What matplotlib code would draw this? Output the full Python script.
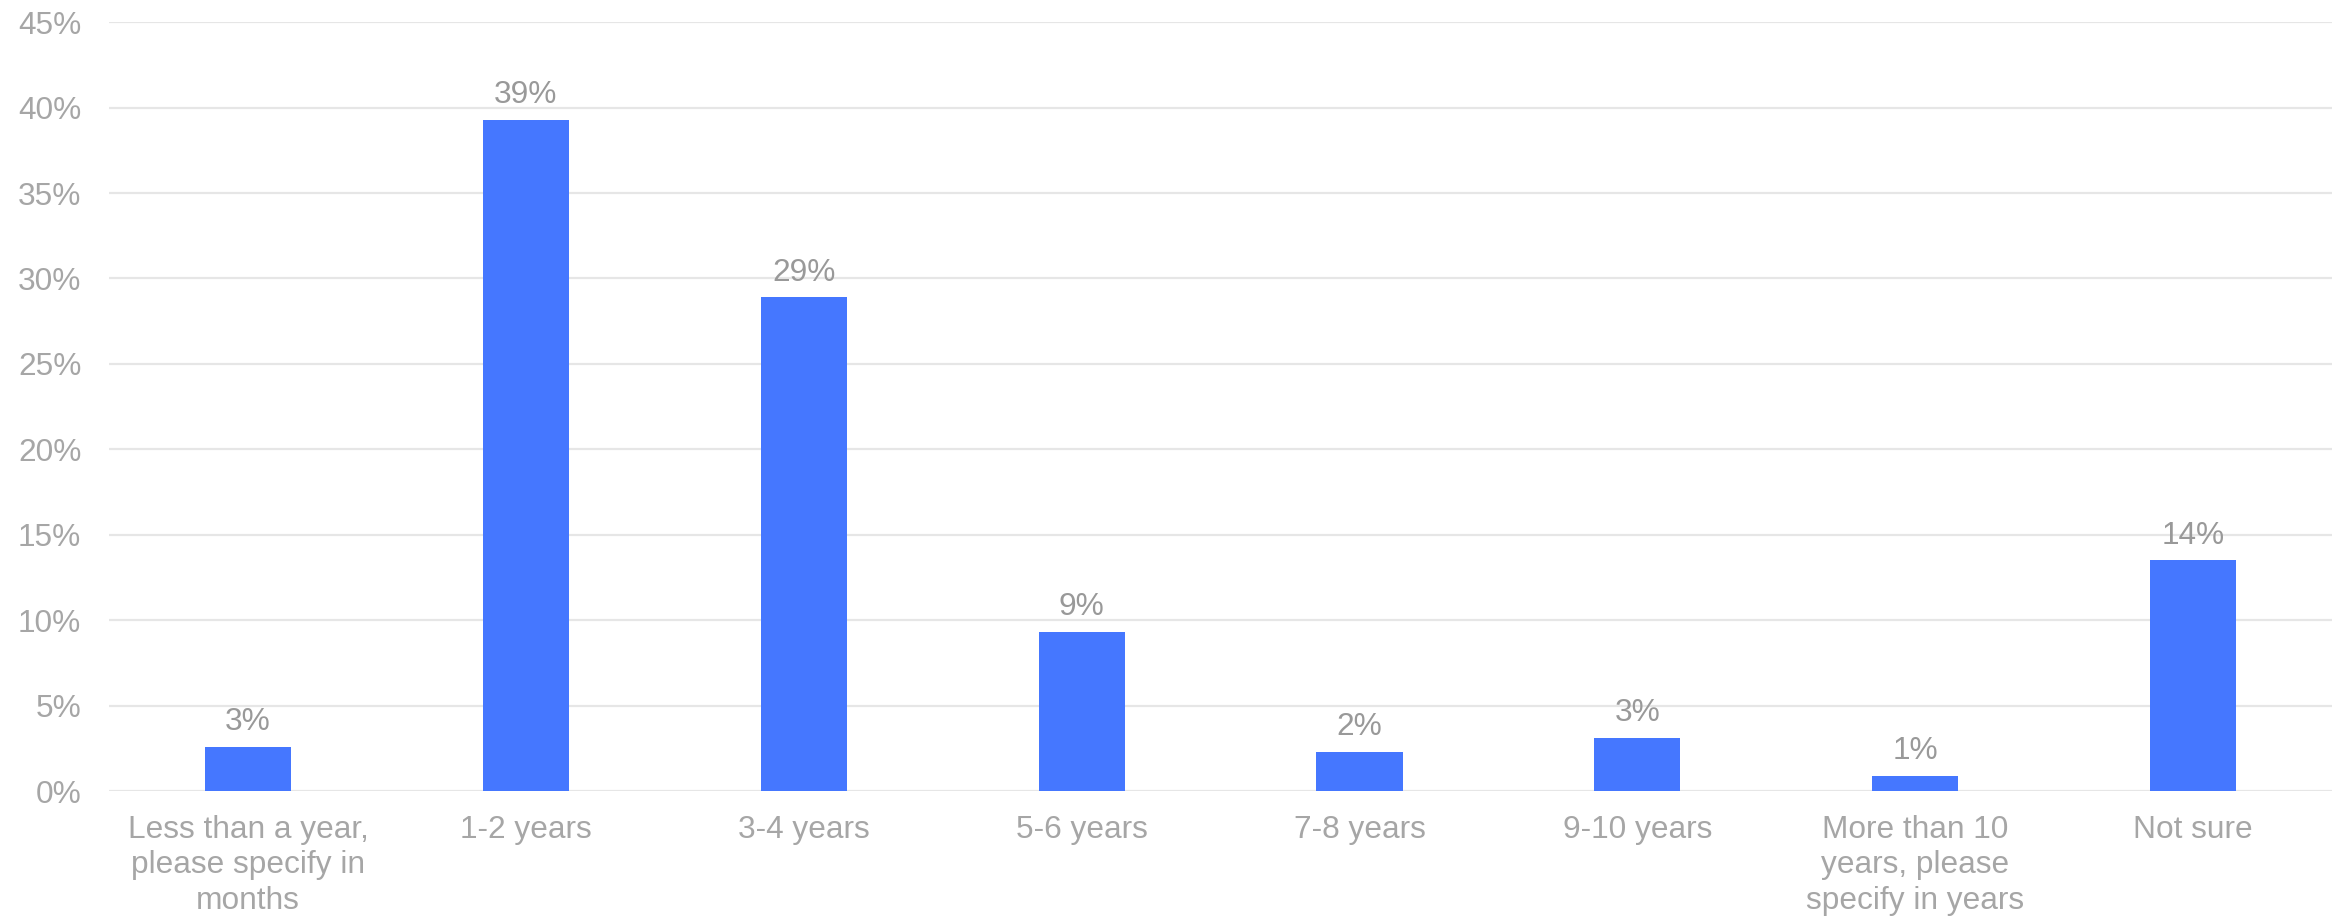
import matplotlib
matplotlib.use('Agg')
import matplotlib.pyplot as plt

# Data
categories = ['Less than a year,\nplease specify in\nmonths', '1-2 years', '3-4 years',
              '5-6 years', '7-8 years', '9-10 years',
              'More than 10\nyears, please\nspecify in years', 'Not sure']
values = [2.6, 39.3, 28.9, 9.3, 2.3, 3.1, 0.9, 13.5]
labels = ['3%', '39%', '29%', '9%', '2%', '3%', '1%', '14%']
yticks = [0, 5, 10, 15, 20, 25, 30, 35, 40, 45]

plt.rcParams['font.family'] = ['Liberation Sans', 'DejaVu Sans']
grey = '#a6a6a6'
fs = 22.8

fig = plt.figure(figsize=(23.36, 9.22), dpi=100)
ax = fig.add_axes([0.0467, 0.142, 0.9516, 0.834])

x = range(len(categories))
bars = ax.bar(x, values, width=0.31, color='#4577ff', zorder=3)

for b, lab in zip(bars, labels):
    ax.annotate(lab, (b.get_x() + b.get_width() / 2, b.get_height()),
                xytext=(0, 7), textcoords='offset points',
                ha='center', va='bottom', fontsize=fs, color='#999999')

ax.set_xlim(-0.5, len(categories) - 0.5)
ax.set_ylim(0, 45)
ax.set_yticks(yticks)
ax.set_yticklabels([f'{t}%' for t in yticks])
ax.set_xticks(list(x))
ax.set_xticklabels(categories, linespacing=1.25)

ax.tick_params(axis='y', length=0, pad=20, labelsize=fs, labelcolor=grey)
ax.tick_params(axis='x', length=0, pad=17, labelsize=fs, labelcolor=grey)

ax.grid(axis='y', color='#e6e6e6', linewidth=1.6, zorder=0)
for s in ax.spines.values():
    s.set_visible(False)

fig.savefig('out.png', dpi=100)
